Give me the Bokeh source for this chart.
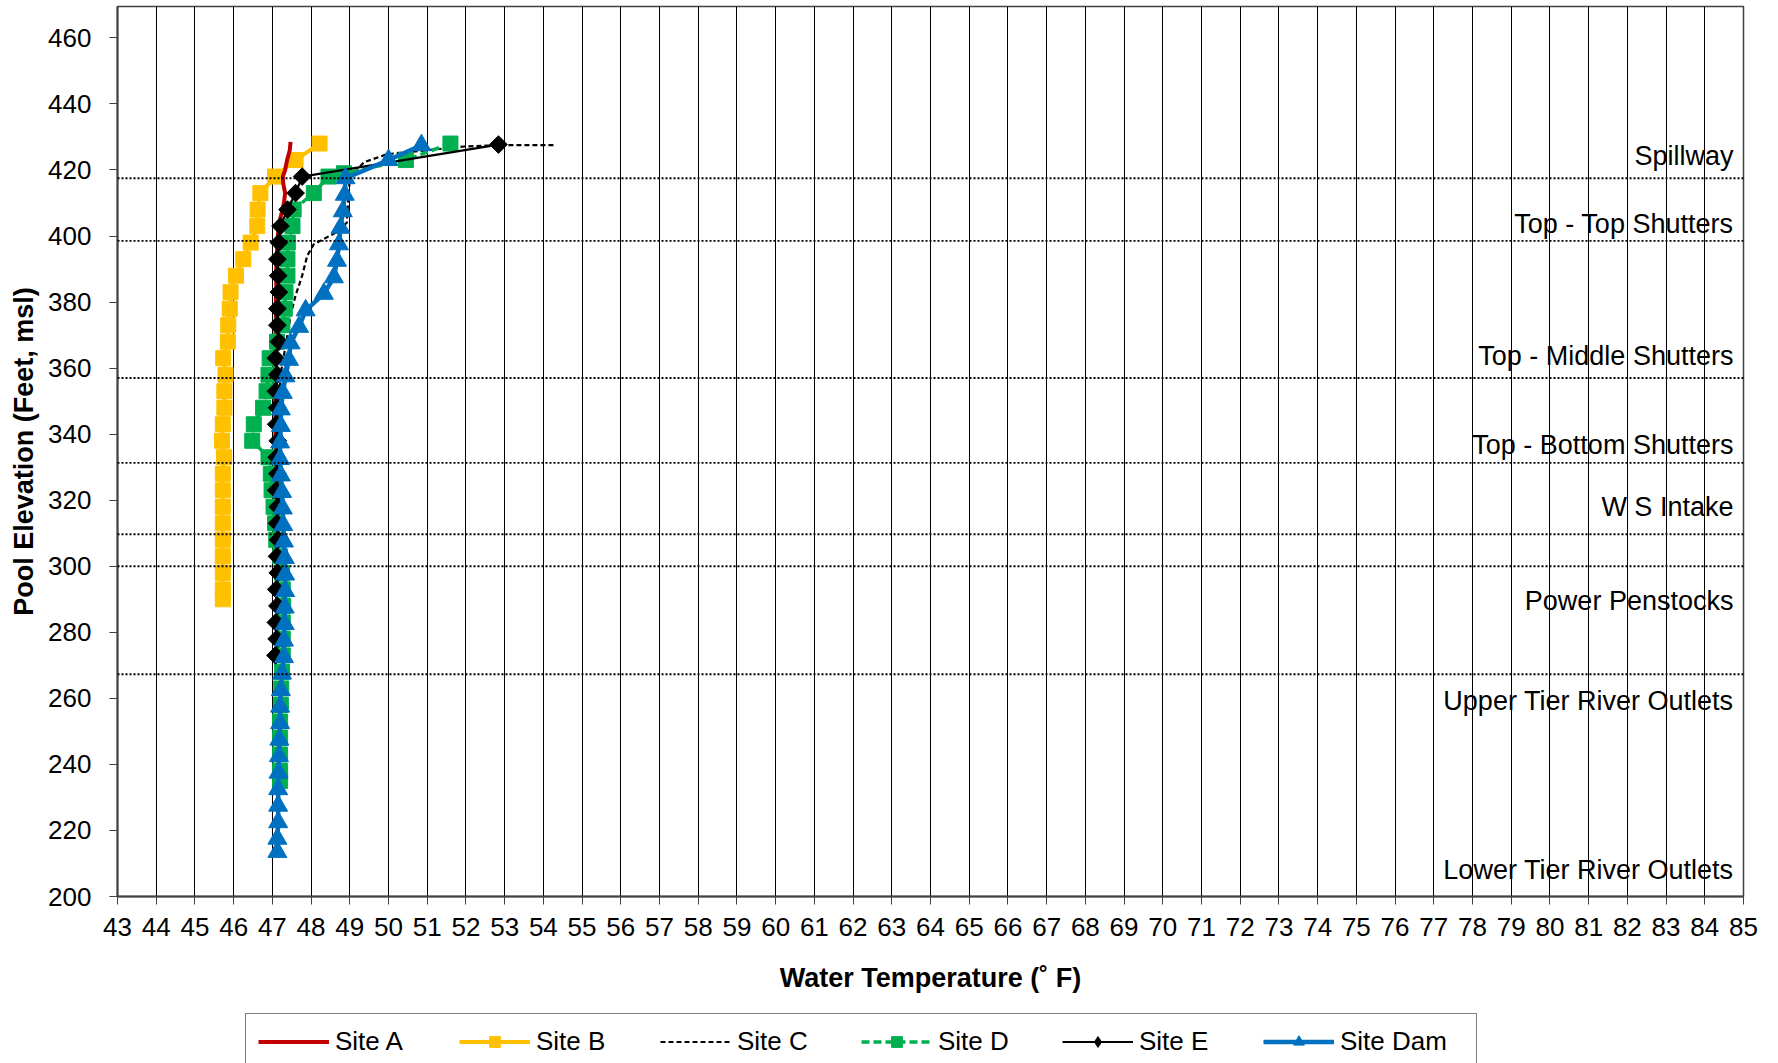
from bokeh.plotting import figure
from bokeh.layouts import column
from bokeh.models import Range1d, FixedTicker, Span, Legend, LegendItem, Plot
from bokeh.core.properties import value
from bokeh.embed import file_html
from bokeh.resources import INLINE

# ---------------- data ----------------
site_a_elev = [428.5, 426, 423, 420, 418, 416, 413, 410, 408, 405, 403, 400,
               395, 390, 385, 380, 375, 370, 365, 360, 355, 350,
               345, 340, 335, 330, 325, 320, 315, 310, 305, 303]
site_a_temp = [47.47, 47.45, 47.38, 47.33, 47.27, 47.28, 47.33, 47.30, 47.26, 47.20, 47.17, 47.14,
               47.12, 47.10, 47.10, 47.09, 47.09, 47.08, 47.08, 47.08, 47.07, 47.07,
               47.08, 47.08, 47.09, 47.08, 47.08, 47.07, 47.08, 47.08, 47.09, 47.09]

site_b_elev = [428, 423, 418, 413, 408, 403, 398, 393, 388, 383, 378, 373, 368, 363, 358,
               353, 348, 343, 338, 333, 328, 323, 318, 313, 308, 303, 298, 293, 290]
site_b_temp = [48.22, 47.60, 47.07, 46.69, 46.62, 46.61, 46.44, 46.25, 46.06, 45.92, 45.90,
               45.86, 45.85, 45.73, 45.79, 45.76, 45.76, 45.72, 45.70, 45.75, 45.72, 45.72,
               45.72, 45.72, 45.72, 45.72, 45.72, 45.72, 45.72]

site_c_elev = [427.5, 427.5, 427.1, 425.8, 424.8, 422.3, 417.5,
               412.5, 407.5, 404.0, 401.0, 397.5, 394.0, 388.0, 382.0, 376.0, 370.0,
               364.0, 358.0, 350, 340, 330, 320, 310, 300, 290, 280, 272]
site_c_temp = [54.26, 52.80, 51.95, 50.83, 49.97, 49.36, 49.00,
               48.97, 48.94, 48.92, 48.63, 48.07, 47.90, 47.77, 47.60, 47.47, 47.39,
               47.30, 47.21, 47.18, 47.17, 47.16, 47.17, 47.17, 47.18, 47.17, 47.16, 47.15]

site_d_elev = [428, 423, 419, 418, 413, 408, 403, 398, 393, 388, 383, 378, 373, 368, 363,
               358, 353, 348, 343, 338, 333, 328, 323, 318, 313, 308, 303, 298, 293, 288,
               283, 278, 273, 268, 263, 258, 253, 248, 243, 238, 235]
site_d_temp = [51.60, 50.45, 48.85, 48.45, 48.07, 47.55, 47.52, 47.40, 47.39, 47.39,
               47.34, 47.32, 47.26, 47.12, 46.93, 46.90, 46.85, 46.76, 46.52, 46.48,
               46.90, 46.96, 46.98, 47.03, 47.07, 47.10, 47.20, 47.25, 47.27, 47.28,
               47.27, 47.27, 47.27, 47.25, 47.23, 47.22, 47.20, 47.20, 47.20, 47.20, 47.20]

site_e_elev = [427.7, 418, 413, 408, 403, 398, 393, 388, 383, 378, 373, 368, 363, 358, 353,
               348, 343, 338, 333, 328, 323, 318, 313, 308, 303, 298, 293, 288, 283, 278, 273]
site_e_temp = [52.84, 47.77, 47.60, 47.39, 47.21, 47.17, 47.13, 47.15, 47.17, 47.13,
               47.13, 47.17, 47.09, 47.13, 47.09, 47.12, 47.10, 47.14, 47.11, 47.13,
               47.10, 47.14, 47.12, 47.15, 47.12, 47.14, 47.10, 47.13, 47.09, 47.11, 47.08]

site_dam_elev = [427.5, 423, 417.5, 412.5, 407.5, 402.5, 397.5, 392.5, 387.5, 382.5,
                 377.5, 372.5, 367.5, 362.5, 357.5, 352.5, 347.5, 342.5, 337.5, 332.5,
                 327.5, 322.5, 317.5, 312.5, 307.5, 302.5, 297.5, 292.5, 287.5, 282.5,
                 277.5, 272.5, 267.5, 262.5, 257.5, 252.5, 247.5, 242.5, 237.5, 232.5,
                 227.5, 222.5, 217.5, 213.5]
site_dam_temp = [50.85, 50.00, 48.89, 48.87, 48.82, 48.76, 48.72, 48.67, 48.59, 48.33,
                 47.86, 47.69, 47.47, 47.43, 47.34, 47.27, 47.22, 47.22, 47.20, 47.20,
                 47.22, 47.25, 47.27, 47.28, 47.30, 47.32, 47.33, 47.33, 47.32, 47.32,
                 47.30, 47.30, 47.25, 47.22, 47.20, 47.20, 47.18, 47.17, 47.16, 47.15,
                 47.15, 47.15, 47.13, 47.13]

ref_line_elev = [417.5, 398.5, 357.0, 331.3, 309.7, 300.0, 267.3]
label_names = ["Spillway", "Top - Top Shutters", "Top - Middle Shutters",
               "Top - Bottom Shutters", "W S Intake", "Power Penstocks",
               "Upper Tier River Outlets", "Lower Tier River Outlets"]
label_elev = [424.3, 403.7, 363.8, 336.7, 317.8, 289.6, 259.1, 207.9]

series_names = ["Site A", "Site B", "Site C", "Site D", "Site E", "Site Dam"]

x_ticks = list(range(43, 86))
y_ticks = list(range(200, 461, 20))

FONT = "Liberation Sans"
RED, YEL, GRN, BLU = "#C00000", "#FFC000", "#00B050", "#0070C0"

styles = [
    (dict(line_color=RED, line_width=4), None),
    (dict(line_color=YEL, line_width=4),
     dict(marker="square", size=15, fill_color=YEL, line_color=YEL)),
    (dict(line_color="black", line_width=2.2, line_dash="5 3"), None),
    (dict(line_color=GRN, line_width=3.5, line_dash="8 4"),
     dict(marker="square", size=15, fill_color=GRN, line_color=GRN)),
    (dict(line_color="black", line_width=2.2),
     dict(marker="square", size=12.5, angle=0.7854, fill_color="black", line_color="black")),
    (dict(line_color=BLU, line_width=4.5),
     dict(marker="triangle", size=19, fill_color=BLU, line_color=BLU)),
]
series_data = [(site_a_temp, site_a_elev), (site_b_temp, site_b_elev),
               (site_c_temp, site_c_elev), (site_d_temp, site_d_elev),
               (site_e_temp, site_e_elev), (site_dam_temp, site_dam_elev)]

HAS_FRAME_ALIGN = "frame_align" in Plot.properties()

# ---------------- main figure ----------------
p = figure(width=1762, height=1012,
           x_range=Range1d(43, 85), y_range=Range1d(200, 469.5),
           output_backend="svg", toolbar_location=None,
           min_border_left=117, min_border_right=19,
           min_border_top=6, min_border_bottom=116)
if HAS_FRAME_ALIGN:
    p.frame_align = False

p.background_fill_color = "white"
p.border_fill_color = "white"
p.outline_line_color = "#404040"
p.outline_line_width = 1.5

p.xgrid.ticker = FixedTicker(ticks=x_ticks)
p.xgrid.grid_line_color = "black"
p.xgrid.grid_line_width = 1
p.ygrid.visible = False

for ax in (p.xaxis[0], p.yaxis[0]):
    ax.axis_line_color = "#404040"
    ax.axis_line_width = 2
    ax.major_tick_line_color = "#404040"
    ax.major_tick_line_width = 1
    ax.major_tick_in = 0
    ax.major_tick_out = 8
    ax.minor_tick_line_color = None
    ax.major_label_text_font = FONT
    ax.major_label_text_font_size = "26px"
    ax.major_label_text_color = "black"
    ax.axis_label_text_font = FONT
    ax.axis_label_text_font_size = "27px"
    ax.axis_label_text_font_style = "bold"
    ax.axis_label_text_color = "black"

p.xaxis.ticker = FixedTicker(ticks=x_ticks)
p.yaxis.ticker = FixedTicker(ticks=y_ticks)
p.xaxis.major_label_standoff = 13
p.yaxis.major_label_standoff = 18
p.xaxis.axis_label = "Water Temperature (\u02da F)"
p.yaxis.axis_label = "Pool Elevation (Feet, msl)"
p.xaxis.axis_label_standoff = 24
p.yaxis.axis_label_standoff = 6

for e in ref_line_elev:
    p.add_layout(Span(location=e, dimension="width", line_color="black",
                      line_width=1.8, line_dash="2 2"))

x_end = p.x_range.end
p.text(x=[x_end - 0.26] * len(label_names), y=label_elev, text=label_names,
       text_align="right", text_baseline="middle",
       text_font=value(FONT), text_font_size="27px", text_color="black")

for i in [1, 0, 2, 3, 4, 5]:
    xs, ys = series_data[i]
    lk, mk = styles[i]
    p.line(xs, ys, **lk)
    if mk:
        p.scatter(xs, ys, **mk)

# ---------------- legend strip (its range excludes the data, so only the legend shows) ----
legend_left = 244 if HAS_FRAME_ALIGN else 117
pl = figure(width=1762, height=51, x_range=Range1d(0, 1), y_range=Range1d(0, 1),
            output_backend="svg", toolbar_location=None,
            min_border_left=legend_left, min_border_right=0 if HAS_FRAME_ALIGN else 19,
            min_border_top=0, min_border_bottom=0)
if HAS_FRAME_ALIGN:
    pl.frame_align = False
pl.axis.visible = False
pl.grid.visible = False
pl.outline_line_color = None
pl.background_fill_color = "white"
pl.border_fill_color = "white"

items = []
for name, (xs, ys), (lk, mk) in zip(series_names, series_data, styles):
    rs = [pl.line(xs, ys, **lk)]
    if mk:
        mk = dict(mk)
        if mk.pop("angle", None) is not None:
            mk["marker"] = "diamond"   # legend swatch ignores rotation
        rs.append(pl.scatter(xs, ys, **mk))
    items.append(LegendItem(label=name, renderers=rs))

legend = Legend(items=items, orientation="horizontal",
                location="top_left" if HAS_FRAME_ALIGN else (128, -13))
legend.margin = 1
legend.padding = 12
legend.spacing = 0
legend.glyph_width = 71
legend.glyph_height = 27
legend.label_height = 27
legend.label_width = 124
legend.label_standoff = 6
legend.label_text_font = FONT
legend.label_text_font_size = "26px"
legend.label_text_color = "black"
legend.border_line_color = "black"
legend.border_line_width = 1
legend.background_fill_color = "white"
legend.background_fill_alpha = 1
pl.add_layout(legend, "center")

layout = column(p, pl, spacing=0)
open("out.html", "w").write(file_html(layout, INLINE))
